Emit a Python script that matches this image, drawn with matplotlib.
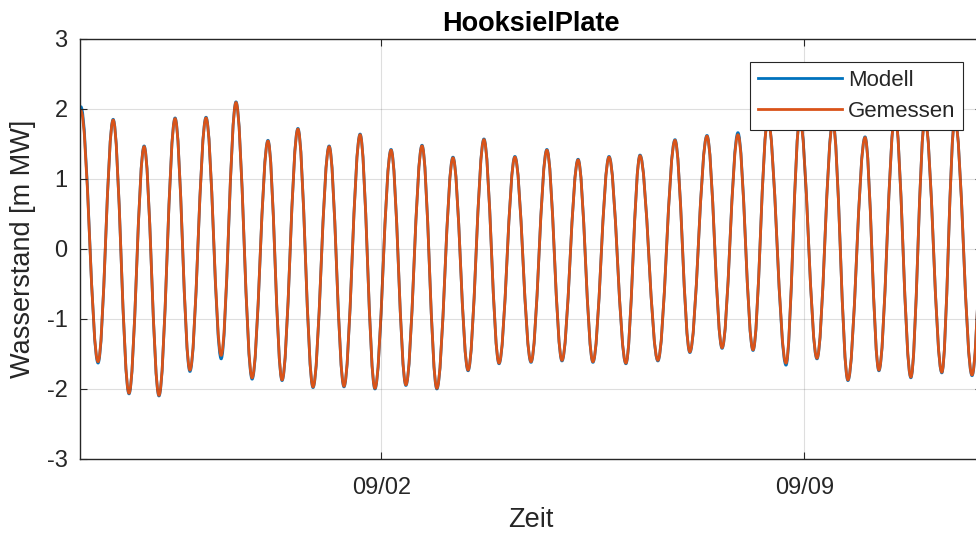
import numpy as np
import matplotlib
matplotlib.use("Agg")
import matplotlib.pyplot as plt
import matplotlib.dates as mdates
from matplotlib.path import Path
from matplotlib.patches import PathPatch
from datetime import datetime

plt.rcParams['font.family'] = ['Liberation Sans', 'DejaVu Sans']
plt.rcParams['axes.unicode_minus'] = False

# Hoch- und Niedrigwasser (Stunden seit 28.08.2019 00:00)
t_start = datetime(2019, 8, 28)
extrema_h = [-5.7, 0.6, 7.4, 13.4, 19.7, 25.7, 31.6, 38.0, 43.9, 50.3, 56.3, 62.2,
             68.6, 74.9, 80.5, 86.8, 92.8, 99.2, 105.1, 111.5, 117.4, 123.8, 129.7,
             136.1, 142.0, 148.4, 154.4, 160.7, 166.7, 173.0, 179.4, 185.7, 191.7,
             198.1, 204.0, 210.4, 217.1, 222.7, 229.8, 236.6, 242.5, 249.3, 255.3,
             261.6, 267.6, 273.5, 280.7, 286.2, 293.0, 299.3, 305.3, 312.1, 317.6,
             324.0, 330.3, 335.9, 342.6, 347.8, 354.6, 360.9, 367.3]

gemessen = [-1.70, 1.97, -1.61, 1.84, -2.06, 1.46, -2.09, 1.86, -1.73, 1.87, -1.52, 2.09,
            -1.84, 1.54, -1.87, 1.71, -1.97, 1.46, -1.96, 1.63, -1.99, 1.41, -1.94,
            1.47, -1.99, 1.30, -1.73, 1.56, -1.63, 1.31, -1.61, 1.41, -1.59,
            1.27, -1.61, 1.31, -1.63, 1.33, -1.59, 1.55, -1.47, 1.61, -1.41,
            1.63, -1.44, 1.85, -1.63, 1.85, -1.56, 1.80, -1.87, 1.59, -1.73,
            1.90, -1.83, 1.85, -1.76, 1.85, -1.80, 1.80, -1.75]

modell = [-1.72, 2.03, -1.63, 1.85, -2.07, 1.47, -2.10, 1.87, -1.75, 1.88, -1.57, 2.10,
          -1.86, 1.55, -1.88, 1.72, -1.98, 1.47, -1.97, 1.64, -2.00, 1.42, -1.95,
          1.48, -2.00, 1.31, -1.74, 1.57, -1.64, 1.32, -1.62, 1.42, -1.60,
          1.28, -1.62, 1.32, -1.64, 1.34, -1.60, 1.56, -1.48, 1.62, -1.42,
          1.66, -1.45, 1.86, -1.66, 1.86, -1.57, 1.82, -1.88, 1.60, -1.74,
          1.91, -1.84, 1.86, -1.77, 1.86, -1.81, 1.81, -1.76]

xlim_h = (0.24, 358.5)


def tide_path(hours, vals, k=0.36):
    # glatte Kurve durch die Extremwerte (kubische Bezier, waagerechte Tangenten)
    x = mdates.date2num(t_start) + np.asarray(hours) / 24.0
    verts = [(x[0], vals[0])]
    codes = [Path.MOVETO]
    for i in range(len(x) - 1):
        dt = x[i + 1] - x[i]
        verts += [(x[i] + k * dt, vals[i]), (x[i + 1] - k * dt, vals[i + 1]), (x[i + 1], vals[i + 1])]
        codes += [Path.CURVE4] * 3
    return Path(verts, codes)


fig = plt.figure(figsize=(9.76, 5.33), dpi=100)
# Achse ragt rechts etwas ueber den Bildrand hinaus (wie im Original beschnitten)
ax = fig.add_axes([0.082, 0.139, 0.924, 0.788])

blue = "#0072BD"
orange = "#D95319"
lw = 2.0

ax.add_patch(PathPatch(tide_path(extrema_h, modell), fill=False, edgecolor=blue, lw=lw))
ax.add_patch(PathPatch(tide_path(extrema_h, gemessen), fill=False, edgecolor=orange, lw=lw))
l1, = ax.plot([], [], color=blue, lw=lw, label="Modell")
l2, = ax.plot([], [], color=orange, lw=lw, label="Gemessen")

ax.xaxis_date()
x0 = mdates.date2num(t_start)
ax.set_xlim(x0 + xlim_h[0] / 24, x0 + xlim_h[1] / 24)
ax.set_ylim(-3, 3)
ax.set_yticks([-3, -2, -1, 0, 1, 2, 3])
ax.set_xticks([mdates.date2num(datetime(2019, 9, 2)), mdates.date2num(datetime(2019, 9, 9))])
ax.xaxis.set_major_formatter(mdates.DateFormatter("%m/%d"))

ax.grid(True, color="#262626", alpha=0.15, lw=0.8)
ax.tick_params(direction="in", length=5, width=0.8, top=True, right=True,
               colors="#262626", labelsize=17)
ax.tick_params(axis="x", pad=13)
ax.tick_params(axis="y", pad=9)
for s in ax.spines.values():
    s.set_color("#262626")
    s.set_linewidth(1.0)

ax.set_title("HooksielPlate", fontsize=19.5, fontweight="bold", color="black", pad=6)
ax.set_xlabel("Zeit", fontsize=19.5, color="#262626", labelpad=6)
ax.set_ylabel("Wasserstand [m MW]", fontsize=19.5, color="#262626", labelpad=8)

leg = ax.legend(handles=[l1, l2], loc="upper right", bbox_to_anchor=(963 / 976, 1 - 62 / 533),
                bbox_transform=fig.transFigure, fontsize=16, fancybox=False, framealpha=1,
                edgecolor="#262626", handlelength=3.8, handletextpad=0.25, borderaxespad=0,
                borderpad=0.35, labelspacing=0.45)
leg.get_frame().set_linewidth(0.8)
for t in leg.get_texts():
    t.set_color("#262626")

fig.savefig("out.png", dpi=100)
